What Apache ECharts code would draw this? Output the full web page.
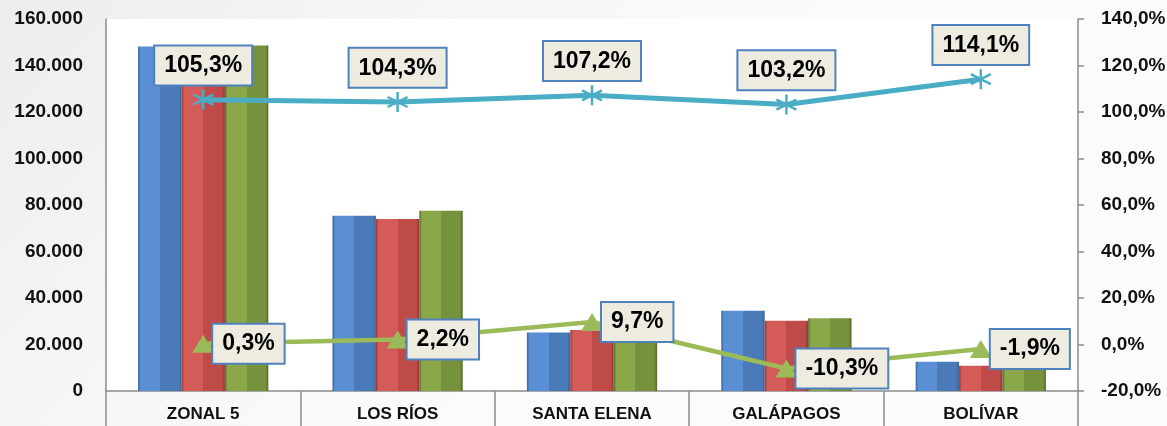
<!DOCTYPE html>
<html>
<head>
<meta charset="utf-8">
<script src="https://cdn.jsdelivr.net/npm/echarts@6/dist/echarts.min.js"></script>
<style>
html,body{margin:0;padding:0;}
#c{width:1167px;height:426px;}
</style>
</head>
<body>
<div id="c"></div>
<script>
var categories = ['ZONAL 5', 'LOS RÍOS', 'SANTA ELENA', 'GALÁPAGOS', 'BOLÍVAR'];
var barBlue = [148200, 75400, 25200, 34500, 12600];
var barRed = [147800, 74000, 26200, 30200, 10900];
var barGreen = [148600, 77500, 28000, 31300, 9900];
var lineBlue = [105.3, 104.3, 107.2, 103.2, 114.1];
var lineGreen = [0.3, 2.2, 9.7, -10.3, -1.9];
var leftTicks = {min: 0, max: 160000, interval: 20000};
var rightTicks = {min: -20, max: 140, interval: 20};

var FONT = '"Liberation Sans", Arial, sans-serif';

function grad(edge, light, mid) {
  return new echarts.graphic.LinearGradient(0, 0, 1, 0, [
    {offset: 0, color: edge},
    {offset: 0.06, color: light},
    {offset: 0.5, color: light},
    {offset: 0.5, color: mid},
    {offset: 0.93, color: mid},
    {offset: 1, color: edge}
  ]);
}
function pct(v) { return v.toFixed(1).replace('.', ',') + '%'; }
function thousands(v) { return String(v).replace(/\B(?=(\d{3})+(?!\d))/g, '.'); }

var labelBox = {
  show: true,
  fontFamily: FONT,
  fontWeight: 'bold',
  fontSize: 23,
  color: '#000',
  backgroundColor: '#eeece1',
  borderColor: '#4f81bd',
  borderWidth: 2,
  padding: [8, 9, 7, 9],
  formatter: function (p) { return pct(p.value); }
};

var chart = echarts.init(document.getElementById('c'));
chart.setOption({
  backgroundColor: new echarts.graphic.LinearGradient(0, 0, 0.4, 1, [
    {offset: 0, color: '#ededed'},
    {offset: 0.6, color: '#f7f7f7'},
    {offset: 1, color: '#fbfbfb'}
  ]),
  animation: false,
  grid: {left: 106, right: 89, top: 19, bottom: 35, show: true, backgroundColor: '#ffffff', borderWidth: 0, outerBoundsMode: 'none', containLabel: false},
  xAxis: {
    type: 'category',
    data: categories,
    axisLine: {show: true, lineStyle: {color: '#8c8c8c', width: 1.5}},
    axisTick: {show: true, interval: 0, alignWithLabel: false, length: 36, lineStyle: {color: '#8c8c8c', width: 1.5}},
    axisLabel: {interval: 0, margin: 15, fontFamily: FONT, fontWeight: 'bold', fontSize: 17, color: '#111'}
  },
  yAxis: [{
    type: 'value',
    min: leftTicks.min, max: leftTicks.max, interval: leftTicks.interval,
    position: 'left',
    splitLine: {show: false},
    axisLine: {show: true, lineStyle: {color: '#8c8c8c', width: 1.5}},
    axisTick: {show: false},
    axisLabel: {margin: 23, fontFamily: FONT, fontWeight: 'bold', fontSize: 19, color: '#111', formatter: thousands}
  }, {
    type: 'value',
    min: rightTicks.min, max: rightTicks.max, interval: rightTicks.interval,
    position: 'right',
    splitLine: {show: false},
    axisLine: {show: true, lineStyle: {color: '#8c8c8c', width: 1.5}},
    axisTick: {show: true, length: 6, lineStyle: {color: '#8c8c8c', width: 1.5}},
    axisLabel: {margin: 23, fontFamily: FONT, fontWeight: 'bold', fontSize: 19, color: '#111', formatter: function (v) { return v.toFixed(1).replace('.', ',') + '%'; } }
  }],
  series: [{
    type: 'bar', data: barBlue, barGap: '0%', barCategoryGap: '33%',
    itemStyle: {color: grad('#3a6399', '#5b8fd4', '#4a7ab8')}
  }, {
    type: 'bar', data: barRed,
    itemStyle: {color: grad('#8f3533', '#d45b58', '#bf4b49')}
  }, {
    type: 'bar', data: barGreen,
    itemStyle: {color: grad('#55692a', '#8aa84a', '#76923c')}
  }, {
    type: 'line', yAxisIndex: 1, data: lineBlue, z: 5,
    symbol: 'path://M0,-10 L0,10 M-8.66,-5 L8.66,5 M-8.66,5 L8.66,-5',
    symbolSize: 20,
    itemStyle: {color: '#4bacc6', borderColor: '#4bacc6', borderWidth: 2.5},
    lineStyle: {color: '#4bacc6', width: 5},
    label: Object.assign({}, labelBox, {position: 'top', distance: 4})
  }, {
    type: 'line', yAxisIndex: 1, data: lineGreen, z: 5,
    symbol: 'triangle', symbolSize: [22, 18],
    itemStyle: {color: '#9bbb59'},
    lineStyle: {color: '#9bbb59', width: 4.5},
    label: Object.assign({}, labelBox, {position: 'right', distance: -1})
  }]
});
</script>
</body>
</html>
